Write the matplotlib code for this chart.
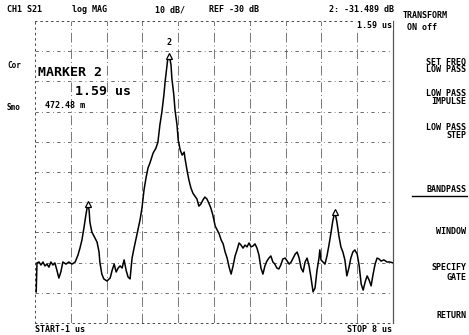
import numpy as np
import matplotlib
matplotlib.use('Agg')
import matplotlib.pyplot as plt

# transform trace, S21 log mag (time in us, level in dB)
t_us = [-0.97, -0.95, -0.90, -0.85, -0.80, -0.75, -0.70, -0.65, -0.60, -0.55,
        -0.50, -0.45, -0.40, -0.35, -0.30, -0.22, -0.15, -0.07, 0.01, 0.08,
        0.13, 0.18, 0.23, 0.28, 0.31, 0.33, 0.36, 0.38, 0.43, 0.51,
        0.56, 0.61, 0.63, 0.68, 0.73, 0.81, 0.89, 0.94, 0.99, 1.04,
        1.09, 1.14, 1.19, 1.24, 1.29, 1.34, 1.39, 1.44, 1.49, 1.56,
        1.64, 1.69, 1.74, 1.79, 1.84, 1.89, 1.97, 2.04, 2.09, 2.14,
        2.19, 2.24, 2.27, 2.32, 2.34, 2.37, 2.39, 2.42, 2.44, 2.49,
        2.52, 2.57, 2.60, 2.65, 2.70, 2.75, 2.77, 2.82, 2.87, 2.92,
        2.97, 3.02, 3.07, 3.12, 3.17, 3.22, 3.27, 3.32, 3.37, 3.42,
        3.47, 3.53, 3.58, 3.63, 3.68, 3.73, 3.78, 3.83, 3.88, 3.93,
        3.98, 4.03, 4.08, 4.13, 4.18, 4.23, 4.28, 4.33, 4.38, 4.43,
        4.48, 4.53, 4.58, 4.63, 4.68, 4.73, 4.78, 4.83, 4.88, 4.93,
        4.98, 5.03, 5.08, 5.13, 5.18, 5.23, 5.29, 5.34, 5.39, 5.44,
        5.49, 5.54, 5.59, 5.64, 5.69, 5.74, 5.79, 5.84, 5.89, 5.94,
        5.99, 6.04, 6.09, 6.14, 6.16, 6.19, 6.24, 6.29, 6.34, 6.39,
        6.44, 6.49, 6.54, 6.59, 6.64, 6.69, 6.74, 6.79, 6.84, 6.89,
        6.94, 6.99, 7.04, 7.10, 7.15, 7.20, 7.25, 7.30, 7.35, 7.40,
        7.45, 7.50, 7.55, 7.60, 7.65, 7.70, 7.77, 7.85, 7.92, 8.00]
s21_db = [-109.7, -100.1, -99.8, -100.8, -99.8, -101.1, -100.5, -101.5, -99.8, -100.8,
          -100.1, -102.5, -105.1, -103.1, -99.8, -100.5, -99.8, -100.5, -99.8, -97.5,
          -95.2, -92.5, -88.5, -84.2, -81.9, -80.6, -82.6, -86.6, -89.9, -91.9,
          -93.2, -96.5, -99.8, -103.8, -105.4, -106.1, -105.1, -102.5, -100.5, -103.1,
          -101.8, -101.1, -101.8, -99.1, -102.5, -104.8, -105.4, -98.5, -95.2, -90.9,
          -85.9, -81.9, -76.0, -72.0, -68.7, -67.0, -63.7, -62.1, -60.1, -54.4,
          -50.1, -44.5, -40.2, -34.6, -32.3, -31.489, -32.4, -34.6, -38.9, -44.5,
          -49.5, -54.4, -59.4, -62.7, -64.4, -63.4, -65.4, -69.3, -72.7, -75.3,
          -77.0, -78.0, -78.9, -81.3, -80.6, -79.3, -78.3, -78.9, -80.3, -81.9,
          -84.2, -87.9, -89.2, -90.5, -92.5, -93.8, -96.5, -98.5, -101.5, -103.8,
          -101.1, -97.8, -95.8, -93.5, -94.2, -95.2, -94.2, -94.8, -93.5, -94.8,
          -94.5, -93.8, -95.2, -97.5, -101.8, -103.8, -101.1, -99.5, -98.5, -97.8,
          -99.8, -100.5, -101.8, -102.1, -100.8, -98.8, -98.5, -99.5, -100.5, -99.8,
          -98.5, -97.2, -96.5, -98.5, -101.8, -103.1, -99.8, -98.5, -101.1, -105.1,
          -109.7, -108.4, -102.5, -98.5, -95.8, -99.1, -99.8, -100.5, -97.8, -94.2,
          -90.2, -85.9, -83.2, -86.6, -91.2, -94.8, -96.5, -99.1, -104.4, -101.8,
          -98.5, -96.5, -95.8, -97.2, -101.1, -107.1, -109.1, -106.4, -104.4, -105.8,
          -107.7, -103.8, -100.5, -98.5, -98.8, -99.5, -99.1, -99.8, -99.8, -100.1]

# markers: index into the trace
marker_idx = [25, 65, 152]
active_marker = 65

start_us, stop_us = -1, 8
ref_db, scale_db = -30, 10
top_db, bottom_db = -20, -120

menu_keys = [('SET FREQ', 62), ('LOW PASS', 70),
             ('LOW PASS', 93), ('IMPULSE', 102),
             ('LOW PASS', 128), ('STEP', 136),
             ('BANDPASS', 190), ('WINDOW', 232),
             ('SPECIFY', 268), ('GATE', 277),
             ('RETURN', 315)]

W, H = 469, 335
fig = plt.figure(figsize=(W / 100, H / 100), dpi=100)
ax = fig.add_axes([35 / W, 1 - 323 / H, 358 / W, 302 / H])
ax.set_xlim(start_us, stop_us)
ax.set_ylim(bottom_db, top_db)
ax.set_xticks([])
ax.set_yticks([])

mono = dict(family='DejaVu Sans Mono', weight='bold', color='black')


def px(x, y):
    return x / W, 1 - y / H


# graticule
xs = np.linspace(start_us, stop_us, 11)
ys = np.linspace(bottom_db, top_db, 11)
for x in xs[1:-1]:
    ax.axvline(x, color='#777777', lw=0.7, ls=(0, (10, 3, 1, 3)), zorder=1)
for y in ys[1:-1]:
    ax.axhline(y, color='#555555', lw=0.6, ls=(0, (4, 4, 1, 4)), zorder=1)
for side in ['left', 'top', 'bottom']:
    ax.spines[side].set_linestyle((0, (1.5, 4)))
    ax.spines[side].set_linewidth(0.7)
    ax.spines[side].set_color('#444444')
ax.spines['right'].set_linewidth(0.9)
ax.spines['right'].set_color('#555555')

ax.plot(t_us, s21_db, color='black', lw=1.1, zorder=3)

# marker symbols
for i in marker_idx:
    ax.plot(t_us[i], s21_db[i], marker='^', ms=5, mfc='white', mec='black',
            mew=0.9, zorder=4)
ax.annotate('2', (t_us[active_marker], s21_db[active_marker]),
            xytext=(0, 6), textcoords='offset points', ha='center',
            va='bottom', fontsize=6, **mono)

# header
fig.text(*px(7, 10), 'CH1 S21', fontsize=6, va='center', **mono)
fig.text(*px(72, 10), 'log MAG', fontsize=6, va='center', **mono)
fig.text(*px(155, 10), '10 dB/', fontsize=6, va='center', **mono)
fig.text(*px(209, 10), 'REF %d dB' % ref_db, fontsize=6, va='center', **mono)
fig.text(*px(394, 10), '2: %.3f dB' % s21_db[active_marker], fontsize=6,
         va='center', ha='right', **mono)
fig.text(*px(392, 26), '1.59 us', fontsize=6, va='center', ha='right',
         bbox=dict(fc='white', ec='none', pad=0.5), **mono)

# left annotations
fig.text(*px(7, 65), 'Cor', fontsize=5.5, va='center', **mono)
fig.text(*px(7, 108), 'Smo', fontsize=5.5, va='center', **mono)
fig.text(*px(38, 73), 'MARKER 2', fontsize=9.5, va='center', **mono)
fig.text(*px(131, 92), '1.59 us', fontsize=9.5, va='center', ha='right', **mono)
fig.text(*px(45, 105), '472.48 m', fontsize=6, va='center', **mono)

# start / stop
fig.text(*px(35, 330), 'START-1 us', fontsize=6, va='center', **mono)
fig.text(*px(392, 330), 'STOP 8 us', fontsize=6, va='center', ha='right', **mono)

# softkey menu
fig.text(*px(403, 15), 'TRANSFORM', fontsize=6, va='center', **mono)
fig.text(*px(407, 28), 'ON off', fontsize=6, va='center', **mono)
for label, y in menu_keys:
    fig.text(*px(466, y), label, fontsize=6, va='center', ha='right', **mono)
fig.add_artist(plt.Line2D([412 / W, 467 / W], [1 - 196 / H, 1 - 196 / H],
                          color='black', lw=1.0))

fig.savefig('out.png', dpi=100, facecolor='white')
